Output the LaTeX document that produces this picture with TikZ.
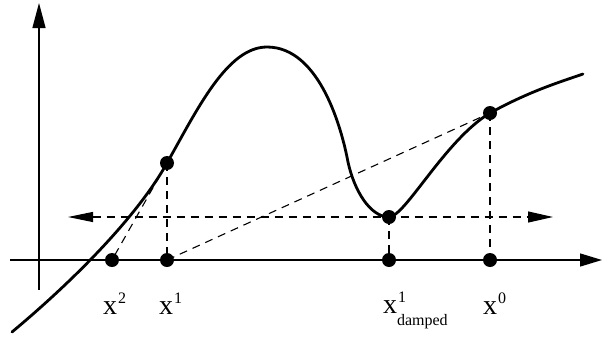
\documentclass[tikz,border=0pt]{standalone}
\usepackage{fontspec}
\setmainfont{Liberation Serif}
\usetikzlibrary{arrows.meta,positioning}
\newcommand{\iterx}[2]{{\fontsize{28}{28}\selectfont x}\rlap{\fontsize{16}{16}\selectfont\kern1pt\raisebox{11pt}{#1}}\rlap{\fontsize{16}{16}\selectfont\raisebox{-12pt}{#2}}}
\begin{document}
\begin{tikzpicture}[x=1pt,y=-1pt,
dot/.style={circle,fill,inner sep=0pt,minimum size=14pt},
axis/.style={line width=1.3pt,-{Triangle[length=22pt,width=13pt]}},
dashline/.style={line width=1.1pt,dash pattern=on 8pt off 6pt},
lab/.style={inner sep=0pt,anchor=center}]
\useasboundingbox (0,0) rectangle (603,338);
\coordinate (yb) at (39,290);\coordinate (yt) at (39,3);
\coordinate (xl) at (10,260);\coordinate (xr) at (602,260);
\draw[axis](xl)--(xr);\draw[axis,-{Triangle[length=25pt,width=13pt]}](yb)--(yt);
% points on the axis and on the curve
\node[dot](a2) at (112,260){};\node[dot](a1) at (167,260){};
\node[dot](ad) at (389,260){};\node[dot](a0) at (490,260){};
\node[dot](c1) at (167,163){};\node[dot](cd) at (389,217){};
\node[dot](c0) at (490,113){};
\coordinate (hl) at (68,217);\coordinate (hr) at (553,217);
\draw[dashline,{Triangle[length=25pt,width=10pt]}-{Triangle[length=25pt,width=11pt]}](hl)--(hr);
\draw[dashline](c1.center)--(a1.center);\draw[dashline](cd.center)--(ad.center);
\draw[dashline](c0.center)--(a0.center);
\draw[dashline](a1.center)--(c0.center);\draw[dashline](c1.center)--(a2.center);
% the function
\coordinate (cs) at (12,332);\coordinate (pk) at (267,47);\coordinate (ip) at (348,162);
\coordinate (ce) at (583,74);
\draw[line width=2.8pt,line cap=round](cs) .. controls (72,282) and (137,217) .. (c1.center)
  .. controls (197,110) and (227,47) .. (pk) .. controls (320,47) and (342,130) .. (ip)
  .. controls (354,190) and (370,217) .. (cd.center) .. controls (405,217) and (445,140) .. (c0.center)
  .. controls (530,91) and (560,82) .. (ce);
% labels
\node[lab](l2) at (110,310){\iterx{2}{}};\node[lab](l1) at (166,310){\iterx{1}{}};
\node[lab](ld) at (390,310){\iterx{1}{damped}};\node[lab](l0) at (490,310){\iterx{0}{}};
\end{tikzpicture}
\end{document}
